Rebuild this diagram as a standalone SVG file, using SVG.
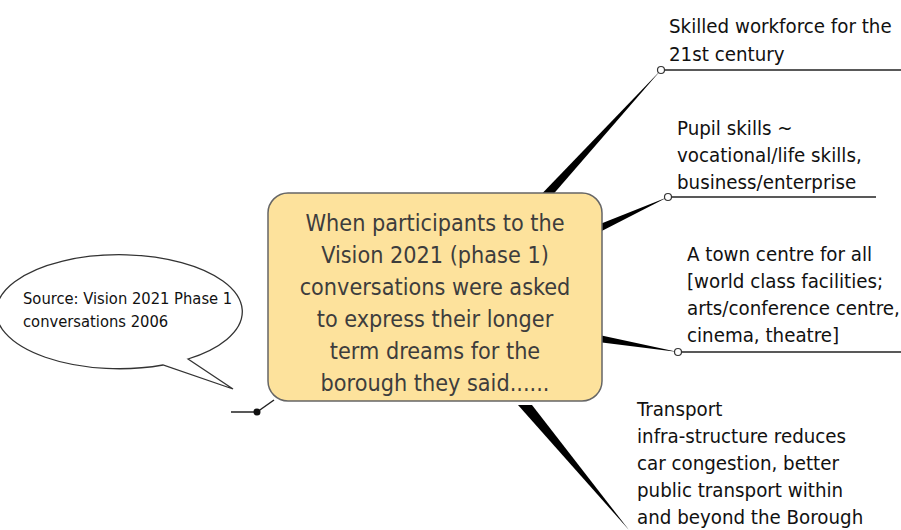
<svg xmlns="http://www.w3.org/2000/svg" width="901" height="530" viewBox="0 0 901 530">
<style>
.t{font-family:"DejaVu Sans Condensed","DejaVu Sans",sans-serif;font-size:20.3px;fill:#111}
.c{font-family:"DejaVu Sans Condensed","DejaVu Sans",sans-serif;font-size:23.2px;fill:#3d3d3d;text-anchor:middle}
.s{font-family:"DejaVu Sans Condensed","DejaVu Sans",sans-serif;font-size:16.4px;fill:#111}
.w{fill:#000}
.h{stroke:#222;stroke-width:1.5;fill:none}
.o{fill:#fff;stroke:#333;stroke-width:1.2}
</style>
<rect width="901" height="530" fill="#fff"/>
<g id="connectors">
  <polygon class="w" points="532,204 550,198 661,70"/>
  <polygon class="w" points="590,228 592,236 668,197"/>
  <polygon class="w" points="590,333 590,341 678,352"/>
  <polygon class="w" points="518,405 532,405 629,530"/>
  <line class="h" x1="661" y1="70" x2="901" y2="70"/>
  <line class="h" x1="668" y1="197" x2="876" y2="197"/>
  <line class="h" x1="678" y1="352" x2="901" y2="352"/>
  <line class="h" x1="274" y1="400" x2="257" y2="412"/>
  <line class="h" x1="231" y1="412" x2="257" y2="412"/>
  <circle class="o" cx="661" cy="70" r="3.5"/>
  <circle class="o" cx="668" cy="197" r="3.5"/>
  <circle class="o" cx="678" cy="352" r="3.5"/>
  <circle cx="257" cy="412" r="3.5" fill="#111"/>
</g>
<g id="center">
  <rect x="268" y="193" width="334" height="208" rx="20" ry="20" fill="#FDE29C" stroke="#666" stroke-width="1.5"/>
  <text class="c" x="435" y="231">When participants to the</text>
  <text class="c" x="435" y="263">Vision 2021 (phase 1)</text>
  <text class="c" x="435" y="295">conversations were asked</text>
  <text class="c" x="435" y="327">to express their longer</text>
  <text class="c" x="435" y="359">term dreams for the</text>
  <text class="c" x="435" y="391">borough they said......</text>
</g>
<g id="callout">
  <path d="M163,365 A123,57 0 1 1 188,359 L233,389 Z" fill="#fff" stroke="#333" stroke-width="1.3"/>
  <text class="s" x="23" y="304">Source: Vision 2021 Phase 1</text>
  <text class="s" x="23" y="327">conversations 2006</text>
</g>
<g id="skilled">
  <text class="t" x="669" y="33">Skilled workforce for the</text>
  <text class="t" x="669" y="61">21st century</text>
</g>
<g id="pupil">
  <text class="t" x="677" y="135">Pupil skills ~</text>
  <text class="t" x="677" y="162">vocational/life skills,</text>
  <text class="t" x="677" y="189">business/enterprise</text>
</g>
<g id="town">
  <text class="t" x="687" y="261">A town centre for all</text>
  <text class="t" x="687" y="288">[world class facilities;</text>
  <text class="t" x="687" y="315">arts/conference centre,</text>
  <text class="t" x="687" y="342">cinema, theatre]</text>
</g>
<g id="transport">
  <text class="t" x="637" y="416">Transport</text>
  <text class="t" x="637" y="443">infra-structure reduces</text>
  <text class="t" x="637" y="470">car congestion, better</text>
  <text class="t" x="637" y="497">public transport within</text>
  <text class="t" x="637" y="524">and beyond the Borough</text>
</g>
</svg>
